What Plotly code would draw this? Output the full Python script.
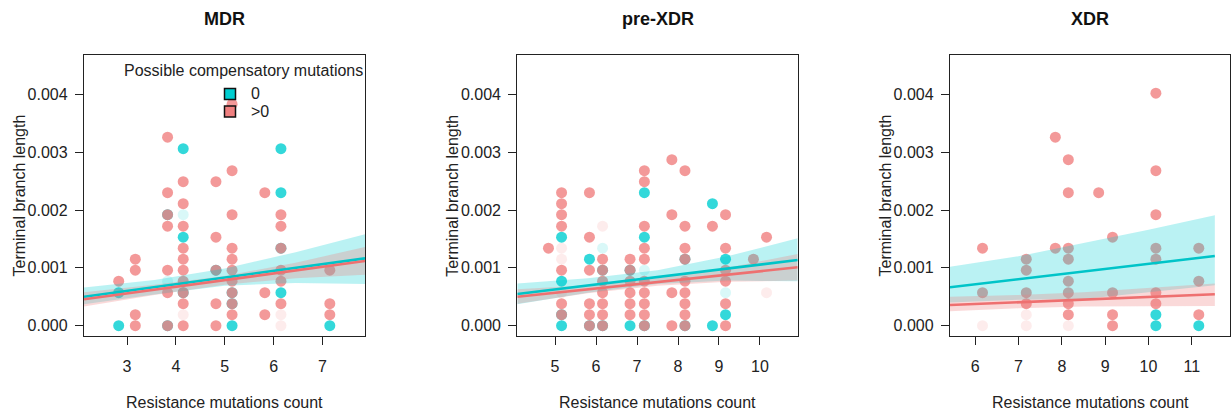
import plotly.graph_objects as go

W, H = 1232, 416

# ---------------- data ----------------
panel_titles = ["MDR", "pre-XDR", "XDR"]
x_title = "Resistance mutations count"
y_title = "Terminal branch length"
legend_title = "Possible compensatory mutations"
legend_labels = ["0", ">0"]
y_tickvals = [0.0, 0.001, 0.002, 0.003, 0.004]
y_ticktext = ["0.000", "0.001", "0.002", "0.003", "0.004"]

# group codes: "0" / ">0" compensatory mutations, "f" suffix = very faint point
mdr_x = [2.83, 2.83, 2.83,
         3.17, 3.17, 3.17, 3.17,
         3.83, 3.83, 3.83, 3.83, 3.83, 3.83, 3.83, 3.83, 3.83, 3.83,
         4.15, 4.15, 4.15, 4.15, 4.15, 4.15, 4.15, 4.15, 4.15, 4.15, 4.15, 4.15, 4.15, 4.15, 4.15,
         4.82, 4.82, 4.82, 4.82, 4.82, 4.82,
         5.15, 5.15, 5.15, 5.15, 5.15, 5.15, 5.15, 5.15, 5.15, 5.15, 5.15, 5.15, 5.15,
         5.82, 5.82, 5.82,
         6.15, 6.15, 6.15, 6.15, 6.15, 6.15, 6.15, 6.15, 6.15, 6.15, 6.15, 6.15,
         7.15, 7.15, 7.15, 7.15]
mdr_y = [0, 0.00057, 0.00077,
         0, 0.00019, 0.00096, 0.00115,
         0, 0, 0.00057, 0.00077, 0.00096, 0.00172, 0.00192, 0.00192, 0.0023, 0.00326,
         0, 0.00019, 0.00038, 0.00057, 0.00057, 0.00077, 0.00096, 0.00115, 0.00134, 0.00153, 0.00172, 0.00192, 0.00211, 0.00249, 0.00306,
         0, 0.00038, 0.00096, 0.00096, 0.00153, 0.00249,
         0, 0.00019, 0.00038, 0.00038, 0.00057, 0.00057, 0.00077, 0.00096, 0.00115, 0.00134, 0.00192, 0.00268, 0.00383,
         0.00019, 0.00057, 0.0023,
         0, 0.00019, 0.00038, 0.00057, 0.00077, 0.00096, 0.00134, 0.00134, 0.00172, 0.00192, 0.0023, 0.00306,
         0, 0.00019, 0.00038, 0.00096]
mdr_grp = ["0", "0", ">0",
           ">0", ">0", ">0", ">0",
           "0", ">0", ">0", "0f", ">0", ">0", "0", ">0", ">0", ">0",
           ">0", ">0f", ">0", "0", ">0", ">0", ">0", ">0", ">0", "0", ">0", "0f", ">0", ">0", "0",
           ">0", ">0", "0", ">0", ">0", ">0",
           "0", ">0", "0", ">0", "0", ">0", ">0", ">0", ">0", ">0", ">0", ">0", ">0",
           ">0", ">0", ">0",
           ">0f", ">0f", ">0", "0", ">0", ">0", "0", ">0", ">0", ">0", "0", "0",
           "0", ">0", ">0", ">0"]

pre_x = [4.84,
         5.16, 5.16, 5.16, 5.16, 5.16, 5.16, 5.16, 5.16, 5.16, 5.16, 5.16, 5.16, 5.16, 5.16,
         5.84, 5.84, 5.84, 5.84, 5.84, 5.84, 5.84, 5.84,
         6.16, 6.16, 6.16, 6.16, 6.16, 6.16, 6.16, 6.16, 6.16, 6.16, 6.16,
         6.83, 6.83, 6.83, 6.83, 6.83, 6.83, 6.83, 6.83,
         7.18, 7.18, 7.18, 7.18, 7.18, 7.18, 7.18, 7.18, 7.18, 7.18, 7.18, 7.18, 7.18, 7.18,
         7.85, 7.85, 7.85, 7.85,
         8.17, 8.17, 8.17, 8.17, 8.17, 8.17, 8.17, 8.17, 8.17, 8.17, 8.17,
         8.84, 8.84, 8.84,
         9.16, 9.16, 9.16, 9.16, 9.16, 9.16, 9.16, 9.16, 9.16,
         9.84,
         10.16, 10.16]
pre_y = [0.00134,
         0, 0.00019, 0.00019, 0.00038, 0.00057, 0.00077, 0.00096, 0.00115, 0.00134, 0.00153, 0.00172, 0.00192, 0.00211, 0.0023,
         0, 0, 0.00019, 0.00038, 0.00096, 0.00115, 0.00153, 0.0023,
         0, 0, 0.00019, 0.00038, 0.00057, 0.00077, 0.00096, 0.00096, 0.00115, 0.00134, 0.00172,
         0, 0.00019, 0.00038, 0.00057, 0.00077, 0.00096, 0.00096, 0.00115,
         0, 0, 0.00019, 0.00038, 0.00057, 0.00077, 0.00096, 0.00115, 0.00134, 0.00153, 0.00172, 0.0023, 0.00249, 0.00268,
         0, 0.00057, 0.00192, 0.00287,
         0, 0, 0.00019, 0.00038, 0.00057, 0.00077, 0.00115, 0.00115, 0.00134, 0.00172, 0.00268,
         0, 0.00172, 0.00211,
         0, 0.00019, 0.00038, 0.00057, 0.00077, 0.00096, 0.00115, 0.00134, 0.00192,
         0.00115,
         0.00057, 0.00153]
pre_grp = [">0",
           "0", "0", ">0", ">0", ">0f", "0", ">0", ">0f", ">0f", "0", ">0", ">0", ">0", ">0",
           "0", ">0", ">0", ">0", ">0", "0", ">0", ">0",
           "0", ">0", ">0", ">0", ">0", ">0", "0", ">0", ">0", "0f", ">0f",
           "0", ">0", ">0", ">0", ">0", "0", ">0", ">0",
           "0", ">0", ">0", ">0", ">0", ">0", "0f", ">0", ">0", "0", ">0", "0", ">0", ">0",
           ">0", ">0", ">0", ">0",
           "0", ">0", ">0", ">0", ">0", ">0", "0", ">0", ">0", ">0", ">0",
           "0", ">0", "0",
           ">0", "0", ">0", "0f", ">0", ">0", "0", ">0", ">0",
           ">0",
           ">0f", ">0"]

xdr_x = [6.17, 6.17, 6.17,
         7.18, 7.18, 7.18, 7.18, 7.18, 7.18,
         7.85, 7.85,
         8.15, 8.15, 8.15, 8.15, 8.15, 8.15, 8.15, 8.15, 8.15,
         8.85,
         9.17, 9.17, 9.17, 9.17,
         10.17, 10.17, 10.17, 10.17, 10.17, 10.17, 10.17, 10.17, 10.17,
         11.16, 11.16, 11.16, 11.16]
xdr_y = [0, 0.00057, 0.00134,
         0, 0.00019, 0.00038, 0.00057, 0.00096, 0.00115,
         0.00134, 0.00326,
         0, 0.00019, 0.00038, 0.00057, 0.00077, 0.00115, 0.00134, 0.0023, 0.00287,
         0.0023,
         0, 0.00019, 0.00057, 0.00153,
         0, 0.00019, 0.00038, 0.00057, 0.00115, 0.00134, 0.00192, 0.00268, 0.00402,
         0, 0.00019, 0.00077, 0.00134]
xdr_grp = [">0f", ">0", ">0",
           ">0f", ">0f", ">0", ">0", ">0", ">0",
           ">0", ">0",
           ">0f", ">0", ">0", ">0", ">0", ">0", ">0", ">0", ">0",
           ">0",
           ">0", ">0", ">0", ">0",
           "0", "0", ">0", ">0", ">0", ">0", ">0", ">0", ">0",
           "0", ">0", ">0", ">0"]

# fitted lines and confidence bands
mdr_fit_x = [2.12, 3.56, 5.0, 6.45, 7.87]
mdr_teal_fit = [0.000501, 0.000667, 0.000834, 0.001000, 0.001165]
mdr_teal_up = [0.00066, 0.00079, 0.00099, 0.00127, 0.00158]
mdr_teal_lo = [0.00037, 0.00054, 0.00069, 0.00074, 0.00072]
mdr_red_fit = [0.000456, 0.000622, 0.000787, 0.000954, 0.001118]
mdr_red_up = [0.00058, 0.00071, 0.00086, 0.00109, 0.00136]
mdr_red_lo = [0.00033, 0.00053, 0.00071, 0.00082, 0.00088]

pre_fit_x = [4.08, 5.8, 7.5, 9.2, 10.92]
pre_teal_fit = [0.000548, 0.000696, 0.000842, 0.000988, 0.001136]
pre_teal_up = [0.00073, 0.00082, 0.00096, 0.00120, 0.00151]
pre_teal_lo = [0.00037, 0.00057, 0.00072, 0.00078, 0.00077]
pre_red_fit = [0.000501, 0.000629, 0.000755, 0.000882, 0.00101]
pre_red_up = [0.00063, 0.00070, 0.00082, 0.00100, 0.00124]
pre_red_lo = [0.00038, 0.00056, 0.00069, 0.00076, 0.00078]

xdr_fit_x = [5.42, 7.0, 8.5, 10.0, 11.53]
xdr_teal_fit = [0.000664, 0.000804, 0.000937, 0.00107, 0.001205]
xdr_teal_up = [0.00102, 0.00120, 0.00143, 0.00166, 0.00191]
xdr_teal_lo = [0.00040, 0.00045, 0.00046, 0.00058, 0.00070]
xdr_red_fit = [0.000358, 0.000406, 0.000451, 0.000497, 0.000543]
xdr_red_up = [0.00050, 0.00053, 0.00058, 0.00065, 0.00073]
xdr_red_lo = [0.00025, 0.00030, 0.00033, 0.00034, 0.00034]

x_ranges = [[2.12, 7.87], [4.08, 10.92], [5.42, 11.88]]
y_range = [-0.000178, 0.00468]

# ---------------- styling ----------------
FONT = "Liberation Sans, Arial, Helvetica, sans-serif"
TEAL = "0,206,209"
RED = "240,128,128"
point_color = {"0f": f"rgba({TEAL},0.15)", ">0f": f"rgba({RED},0.15)",
               "0": f"rgba({TEAL},0.8)", ">0": f"rgba({RED},0.8)"}
x_domains = [[84 / W, 365 / W], [517.3 / W, 797.7 / W], [950 / W, 1230 / W]]
y_domain = [1 - 336 / H, 1 - 55 / H]

panels = [
    (mdr_x, mdr_y, mdr_grp, mdr_fit_x, mdr_teal_fit, mdr_teal_up, mdr_teal_lo, mdr_red_fit, mdr_red_up, mdr_red_lo),
    (pre_x, pre_y, pre_grp, pre_fit_x, pre_teal_fit, pre_teal_up, pre_teal_lo, pre_red_fit, pre_red_up, pre_red_lo),
    (xdr_x, xdr_y, xdr_grp, xdr_fit_x, xdr_teal_fit, xdr_teal_up, xdr_teal_lo, xdr_red_fit, xdr_red_up, xdr_red_lo),
]

fig = go.Figure()
annotations = []
for i, (px, py, pg, fx, tf, tu, tl, rf, ru, rl) in enumerate(panels):
    xa = "x" if i == 0 else f"x{i+1}"
    ya = "y" if i == 0 else f"y{i+1}"
    for g in ["0f", ">0f", "0", ">0"]:
        xs = [a for a, gg in zip(px, pg) if gg == g]
        ys = [b for b, gg in zip(py, pg) if gg == g]
        fig.add_trace(go.Scatter(x=xs, y=ys, mode="markers", xaxis=xa, yaxis=ya,
                                 marker=dict(size=11, color=point_color[g], line=dict(width=0)),
                                 showlegend=False, hoverinfo="skip"))
    # confidence bands
    for up, lo, col in [(tu, tl, f"rgba({TEAL},0.27)"), (ru, rl, f"rgba({RED},0.30)")]:
        fig.add_trace(go.Scatter(x=fx + fx[::-1], y=up + lo[::-1], mode="lines", fill="toself",
                                 fillcolor=col, line=dict(width=0), xaxis=xa, yaxis=ya,
                                 showlegend=False, hoverinfo="skip"))
    # fitted lines
    for fit, col in [(tf, "rgb(0,196,200)"), (rf, "rgb(238,112,112)")]:
        fig.add_trace(go.Scatter(x=[fx[0], fx[-1]], y=[fit[0], fit[-1]], mode="lines",
                                 line=dict(color=col, width=2.6), xaxis=xa, yaxis=ya,
                                 showlegend=False, hoverinfo="skip"))

    axis_common = dict(showline=True, mirror=True, linecolor="#222", linewidth=1.3,
                       ticks="outside", ticklen=8, tickwidth=1.3, tickcolor="#222",
                       showgrid=False, zeroline=False,
                       tickfont=dict(family=FONT, size=16, color="#222"))
    fig.update_layout(**{
        ("xaxis" if i == 0 else f"xaxis{i+1}"): dict(
            domain=x_domains[i], range=x_ranges[i], anchor=ya, dtick=1,
            ticklabelstandoff=8, **axis_common),
        ("yaxis" if i == 0 else f"yaxis{i+1}"): dict(
            domain=y_domain, range=y_range, anchor=xa, tickvals=y_tickvals,
            ticktext=y_ticktext, ticklabelstandoff=4, **axis_common),
    })
    cx = (x_domains[i][0] + x_domains[i][1]) / 2
    annotations.append(dict(text=f"<b>{panel_titles[i]}</b>", x=cx, y=1 - 19 / H, xref="paper", yref="paper",
                            showarrow=False, font=dict(family=FONT, size=18, color="#111"),
                            xanchor="center", yanchor="middle"))
    annotations.append(dict(text=x_title, x=cx, y=1 - 402 / H, xref="paper", yref="paper",
                            showarrow=False, font=dict(family=FONT, size=16, color="#222"),
                            xanchor="center", yanchor="middle"))
    annotations.append(dict(text=y_title, x=(x_domains[i][0] * W - 65.5) / W, y=1 - 196 / H,
                            xref="paper", yref="paper", textangle=-90, showarrow=False,
                            font=dict(family=FONT, size=16, color="#222"),
                            xanchor="center", yanchor="middle"))

# legend (drawn inside the MDR panel)
annotations.append(dict(text=legend_title, x=243.5 / W, y=1 - 70 / H, xref="paper", yref="paper",
                        showarrow=False, font=dict(family=FONT, size=16, color="#222"),
                        xanchor="center", yanchor="middle"))
shapes = []
for j, (lab, col) in enumerate(zip(legend_labels, [f"rgb({TEAL})", f"rgb({RED})"])):
    cy = 94 + j * 17.5
    shapes.append(dict(type="rect", xref="paper", yref="paper",
                       x0=(230 - 5.5) / W, x1=(230 + 5.5) / W, y0=1 - (cy + 5.5) / H, y1=1 - (cy - 5.5) / H,
                       fillcolor=col, line=dict(color="#111", width=1.5)))
    annotations.append(dict(text=lab, x=249 / W, y=1 - cy / H, xref="paper", yref="paper",
                            showarrow=False, font=dict(family=FONT, size=16, color="#222"),
                            xanchor="left", yanchor="middle"))

fig.update_layout(width=W, height=H, margin=dict(l=0, r=0, t=0, b=0),
                  paper_bgcolor="white", plot_bgcolor="white",
                  annotations=annotations, shapes=shapes, showlegend=False)
fig.write_html("out.html")
